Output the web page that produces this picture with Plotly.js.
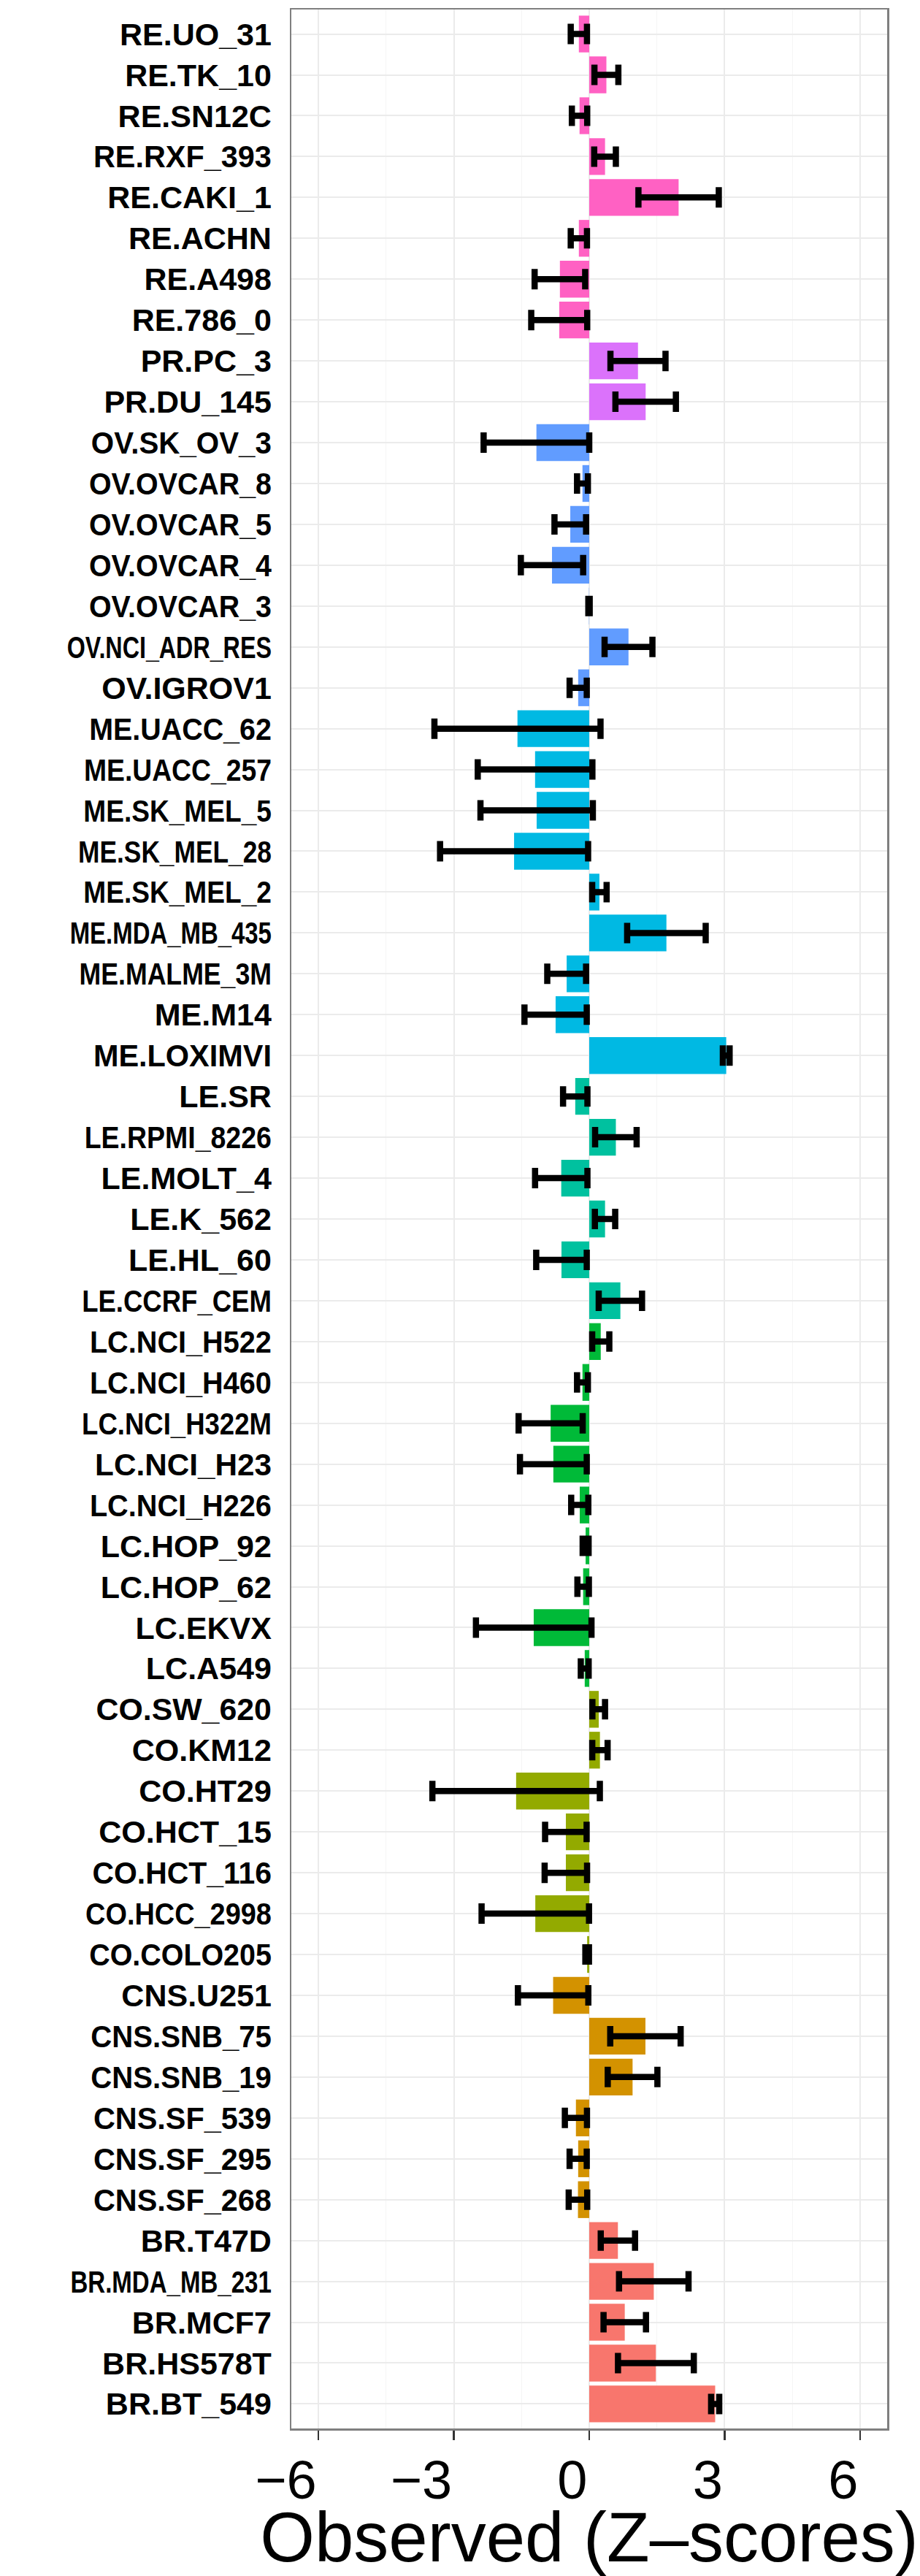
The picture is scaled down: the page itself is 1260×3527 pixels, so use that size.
<!DOCTYPE html>
<html>
<head>
<meta charset="utf-8">
<script src="https://cdn.plot.ly/plotly-3.0.1.min.js"></script>
<style>html,body{margin:0;padding:0;background:#fff;}#chart{width:1260px;height:3527px;}</style>
</head>
<body>
<div id="chart"></div>
<script>
// Cell lines, listed top to bottom
const cellLines = [
  "RE.UO_31","RE.TK_10","RE.SN12C","RE.RXF_393","RE.CAKI_1","RE.ACHN","RE.A498","RE.786_0",
  "PR.PC_3","PR.DU_145",
  "OV.SK_OV_3","OV.OVCAR_8","OV.OVCAR_5","OV.OVCAR_4","OV.OVCAR_3","OV.NCI_ADR_RES","OV.IGROV1",
  "ME.UACC_62","ME.UACC_257","ME.SK_MEL_5","ME.SK_MEL_28","ME.SK_MEL_2","ME.MDA_MB_435","ME.MALME_3M","ME.M14","ME.LOXIMVI",
  "LE.SR","LE.RPMI_8226","LE.MOLT_4","LE.K_562","LE.HL_60","LE.CCRF_CEM",
  "LC.NCI_H522","LC.NCI_H460","LC.NCI_H322M","LC.NCI_H23","LC.NCI_H226","LC.HOP_92","LC.HOP_62","LC.EKVX","LC.A549",
  "CO.SW_620","CO.KM12","CO.HT29","CO.HCT_15","CO.HCT_116","CO.HCC_2998","CO.COLO205",
  "CNS.U251","CNS.SNB_75","CNS.SNB_19","CNS.SF_539","CNS.SF_295","CNS.SF_268",
  "BR.T47D","BR.MDA_MB_231","BR.MCF7","BR.HS578T","BR.BT_549"
];

// Observed Z-scores (bar length)
const observed = [
  -0.23, 0.38, -0.215, 0.35, 1.98, -0.23, -0.65, -0.665,
  1.08, 1.25,
  -1.17, -0.15, -0.42, -0.825, -0.005, 0.87, -0.245,
  -1.59, -1.20, -1.165, -1.665, 0.225, 1.71, -0.50, -0.745, 3.035,
  -0.31, 0.59, -0.62, 0.35, -0.615, 0.69,
  0.255, -0.15, -0.855, -0.795, -0.21, -0.08, -0.135, -1.23, -0.10,
  0.21, 0.237, -1.62, -0.518, -0.518, -1.195, -0.046,
  -0.80, 1.245, 0.96, -0.295, -0.245, -0.25,
  0.635, 1.43, 0.787, 1.477, 2.79
];

// Error bar half-widths
const errors = [
  0.18, 0.265, 0.17, 0.24, 0.89, 0.18, 0.56, 0.62,
  0.61, 0.67,
  1.17, 0.12, 0.35, 0.69, 0.015, 0.53, 0.19,
  1.84, 1.27, 1.245, 1.64, 0.16, 0.87, 0.43, 0.69, 0.075,
  0.27, 0.46, 0.58, 0.225, 0.56, 0.48,
  0.19, 0.12, 0.71, 0.74, 0.19, 0.066, 0.127, 1.28, 0.087,
  0.14, 0.17, 1.855, 0.46, 0.47, 1.19, 0.04,
  0.78, 0.78, 0.55, 0.245, 0.19, 0.205,
  0.38, 0.77, 0.47, 0.84, 0.09
];

// Tissue groups and their colours
const tissues = ["BR","CNS","CO","LC","LE","ME","OV","PR","RE"];
const tissueColors = ["#F8766D","#D39200","#93AA00","#00BA38","#00C19F","#00B9E3","#619CFF","#DB72FB","#FF61C3"];

const xTicks = [-6, -3, 0, 3, 6];
const xTitle = "Observed (Z\u2013scores)";

const barColors = cellLines.map(c => tissueColors[tissues.indexOf(c.split(".")[0])]);
const n = cellLines.length;

const FONT = "Liberation Sans, Arial, Helvetica, sans-serif";

const trace = {
  type: "bar",
  orientation: "h",
  x: observed,
  y: cellLines,
  marker: { color: barColors, line: { width: 0 } },
  error_x: { type: "data", array: errors, visible: true, color: "#000000", thickness: 8.5, width: 14 },
  hoverinfo: "x+y",
  showlegend: false
};

const layout = {
  width: 1260,
  height: 3527,
  margin: { l: 399, r: 45, t: 13, b: 202, autoexpand: false },
  paper_bgcolor: "#ffffff",
  plot_bgcolor: "#ffffff",
  bargap: 0.1,
  font: { family: FONT, color: "#000000" },
  xaxis: {
    range: [-6.6, 6.6],
    tickmode: "array",
    tickvals: xTicks,
    ticktext: xTicks.map(v => v < 0 ? "\u2212" + Math.abs(v) : String(v)),
    ticks: "outside",
    ticklen: 13,
    tickwidth: 2.5,
    tickcolor: "#333333",
    ticklabelposition: "outside left",
    ticklabelstandoff: 5,
    tickfont: { family: FONT, size: 74, color: "#000000" },
    showgrid: true,
    gridcolor: "#ebebeb",
    gridwidth: 2,
    minor: { tickmode: "array", tickvals: [-4.5, -1.5, 1.5, 4.5], showgrid: true, gridcolor: "#f5f5f5", gridwidth: 1.2, ticks: "" },
    zeroline: false,
    showline: true,
    mirror: true,
    linecolor: "#7f7f7f",
    linewidth: 2.5,
    automargin: false,
    title: { text: xTitle, font: { family: FONT, size: 96, color: "#000000" }, standoff: 26 }
  },
  yaxis: {
    type: "category",
    categoryorder: "array",
    categoryarray: cellLines,
    range: [n - 0.4, -0.6],
    ticks: "outside",
    ticklen: 16,
    tickcolor: "rgba(0,0,0,0)",
    tickfont: { family: FONT, size: 43, color: "#000000", weight: "bold" },
    showgrid: true,
    gridcolor: "#ebebeb",
    gridwidth: 2,
    zeroline: false,
    showline: true,
    mirror: true,
    linecolor: "#7f7f7f",
    linewidth: 2.5,
    automargin: false
  }
};

// Long cell-line labels are set more tightly in the original figure
function tightenLabels(gd) {
  gd.querySelectorAll("g.ytick text").forEach(t => {
    const w = t.getComputedTextLength();
    if (w > 240) {
      t.setAttribute("textLength", (240 + 0.3 * (w - 240)).toFixed(1));
      t.setAttribute("lengthAdjust", "spacingAndGlyphs");
    }
  });
}

Plotly.newPlot("chart", [trace], layout, { displayModeBar: false, staticPlot: true })
  .then(gd => tightenLabels(gd));
</script>
</body>
</html>
